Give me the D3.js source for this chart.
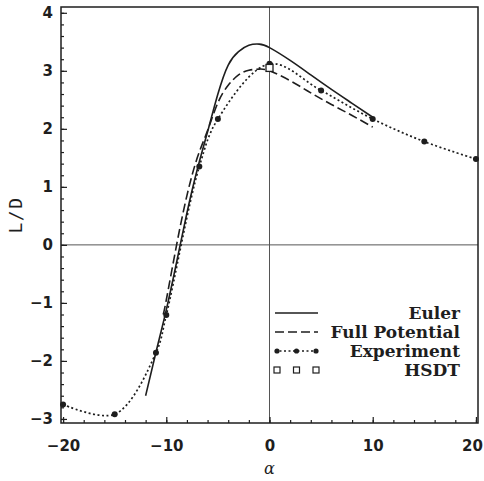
<!DOCTYPE html>
<html>
<head>
<meta charset="utf-8">
<script src="https://cdn.jsdelivr.net/npm/d3@7"></script>
<style>
    body { margin: 0; background: #fff; }
    svg { display: block; }
</style>
</head>
<body>
<svg id="visualization" width="484" height="481"></svg>
<script>
// curves
const eulerAlpha = [-12, -11, -10, -9, -8, -7, -6, -5, -4, -3, -2, -1, 0, 2, 4, 6, 8, 10];
const eulerLD = [-2.6, -1.85, -1.12, -0.3, 0.55, 1.3, 1.95, 2.6, 3.1, 3.33, 3.44, 3.46, 3.4, 3.18, 2.93, 2.68, 2.44, 2.2];

const fullPotAlpha = [-10.3, -10, -9, -8, -7, -6, -5, -4, -3, -2, -1, 0, 2, 4, 6, 8, 10];
const fullPotLD = [-1.2, -0.95, 0.0, 0.85, 1.5, 1.97, 2.45, 2.75, 2.93, 3.01, 3.03, 3.0, 2.83, 2.62, 2.42, 2.23, 2.03];

const expAlpha = [-20, -15, -11, -10, -6.8, -5, 0, 5, 10, 15, 20];
const expLD = [-2.75, -2.92, -1.86, -1.21, 1.35, 2.17, 3.12, 2.66, 2.17, 1.78, 1.48];

const hsdtAlpha = [0];
const hsdtLD = [3.05];

const xTicks = [-20, -10, 0, 10, 20];
const yTicks = [-3, -2, -1, 0, 1, 2, 3, 4];
const legendLabels = ["Euler", "Full Potential", "Experiment", "HSDT"];

const ink = "#1e1e1e";

const setupVisualization = () => {
    const svg = d3.select("#visualization");

    const xScale = d3.scaleLinear()
        .domain([-20.2, 20.2])
        .range([61, 478]);
    const yScale = d3.scaleLinear()
        .domain([-3.07, 4.1])
        .range([423, 7]);

    // crosshair at zero
    svg.append("line")
        .attr("x1", xScale(0)).attr("x2", xScale(0))
        .attr("y1", yScale.range()[0]).attr("y2", yScale.range()[1])
        .attr("stroke", "#555").attr("stroke-width", 1);
    svg.append("line")
        .attr("x1", xScale.range()[0]).attr("x2", xScale.range()[1])
        .attr("y1", yScale(0)).attr("y2", yScale(0))
        .attr("stroke", "#555").attr("stroke-width", 1);

    // minor ticks
    svg.append("g")
        .attr("transform", `translate(0, ${yScale.range()[0]})`)
        .call(d3.axisBottom(xScale).tickValues(d3.range(-20, 21, 2)).tickSize(-3).tickFormat(""))
        .call(g => g.select(".domain").remove());
    svg.append("g")
        .attr("transform", `translate(${xScale.range()[0]}, 0)`)
        .call(d3.axisLeft(yScale).tickValues(d3.range(-30, 41, 2).map(d => d / 10)).tickSize(-3).tickFormat(""))
        .call(g => g.select(".domain").remove());

    // major ticks + labels
    svg.append("g")
        .attr("class", "xaxis")
        .attr("transform", `translate(0, ${yScale.range()[0]})`)
        .call(d3.axisBottom(xScale).tickValues(xTicks).tickSize(-6).tickPadding(17))
        .call(g => g.select(".domain").remove());
    svg.append("g")
        .attr("transform", `translate(${xScale.range()[0]}, 0)`)
        .call(d3.axisLeft(yScale).tickValues(yTicks).tickSize(-6).tickPadding(8))
        .call(g => g.select(".domain").remove());

    svg.selectAll(".tick line").attr("stroke", ink).attr("stroke-width", 1.2);
    svg.selectAll(".tick text")
        .attr("fill", ink)
        .attr("font-family", "'DejaVu Sans', sans-serif")
        .attr("font-weight", "bold")
        .attr("font-size", 15);
    // last x label sits on the window edge
    svg.selectAll(".xaxis .tick text")
        .filter(d => d === 20)
        .attr("dx", -4);

    // frame
    svg.append("rect")
        .attr("x", xScale.range()[0])
        .attr("y", yScale.range()[1])
        .attr("width", xScale.range()[1] - xScale.range()[0])
        .attr("height", yScale.range()[0] - yScale.range()[1])
        .attr("fill", "none")
        .attr("stroke", ink)
        .attr("stroke-width", 1.5);

    const line = d3.line()
        .x(d => xScale(d[0]))
        .y(d => yScale(d[1]))
        .curve(d3.curveNatural);
    const expLine = d3.line()
        .x(d => xScale(d[0]))
        .y(d => yScale(d[1]))
        .curve(d3.curveCatmullRom.alpha(0.5));

    svg.append("path")
        .datum(d3.zip(eulerAlpha, eulerLD))
        .attr("d", line)
        .attr("fill", "none").attr("stroke", ink).attr("stroke-width", 1.6);

    svg.append("path")
        .datum(d3.zip(fullPotAlpha, fullPotLD))
        .attr("d", line)
        .attr("fill", "none").attr("stroke", ink).attr("stroke-width", 1.6)
        .attr("stroke-dasharray", "9,4");

    svg.append("path")
        .datum(d3.zip(expAlpha, expLD))
        .attr("d", expLine)
        .attr("fill", "none").attr("stroke", ink).attr("stroke-width", 1.7)
        .attr("stroke-dasharray", "2,2.5");

    svg.selectAll(".exp")
        .data(d3.zip(expAlpha, expLD))
        .join("circle")
        .attr("class", "exp")
        .attr("cx", d => xScale(d[0]))
        .attr("cy", d => yScale(d[1]))
        .attr("r", 3)
        .attr("fill", ink);

    svg.selectAll(".hsdt")
        .data(d3.zip(hsdtAlpha, hsdtLD))
        .join("rect")
        .attr("class", "hsdt")
        .attr("x", d => xScale(d[0]) - 3.5)
        .attr("y", d => yScale(d[1]) - 3.5)
        .attr("width", 7).attr("height", 7)
        .attr("fill", "#fff").attr("stroke", ink).attr("stroke-width", 1.3);

    // legend
    const legend = svg.append("g");
    const rowY = i => 313 + i * 19;
    const lx0 = 275, lx1 = 318;

    legend.append("line")
        .attr("x1", lx0).attr("x2", lx1).attr("y1", rowY(0)).attr("y2", rowY(0))
        .attr("stroke", ink).attr("stroke-width", 1.6);
    legend.append("line")
        .attr("x1", lx0).attr("x2", lx1).attr("y1", rowY(1)).attr("y2", rowY(1))
        .attr("stroke", ink).attr("stroke-width", 1.6).attr("stroke-dasharray", "9,4");
    legend.append("line")
        .attr("x1", lx0).attr("x2", lx1).attr("y1", rowY(2)).attr("y2", rowY(2))
        .attr("stroke", ink).attr("stroke-width", 1.6).attr("stroke-dasharray", "2,2.5");
    legend.selectAll(".legdot")
        .data([lx0 + 2, (lx0 + lx1) / 2, lx1 - 2])
        .join("circle")
        .attr("class", "legdot")
        .attr("cx", d => d).attr("cy", rowY(2)).attr("r", 2.6).attr("fill", ink);
    legend.selectAll(".legsq")
        .data([lx0 + 2, (lx0 + lx1) / 2, lx1 - 2])
        .join("rect")
        .attr("class", "legsq")
        .attr("x", d => d - 3).attr("y", rowY(3) - 3)
        .attr("width", 6).attr("height", 6)
        .attr("fill", "#fff").attr("stroke", ink).attr("stroke-width", 1.2);

    legend.selectAll(".legtext")
        .data(legendLabels)
        .join("text")
        .attr("class", "legtext")
        .attr("x", 460)
        .attr("y", (d, i) => rowY(i))
        .attr("dy", "0.35em")
        .attr("text-anchor", "end")
        .attr("font-family", "'DejaVu Serif', serif")
        .attr("font-weight", "bold")
        .attr("font-size", 17)
        .attr("fill", ink)
        .text(d => d);

    // axis titles
    svg.append("text")
        .attr("transform", "translate(22, 215) rotate(-90)")
        .attr("text-anchor", "middle")
        .attr("font-family", "'DejaVu Sans Mono', monospace")
        .attr("font-size", 18)
        .attr("letter-spacing", 1.5)
        .attr("fill", ink)
        .text("L/D");

    svg.append("text")
        .attr("x", xScale(0))
        .attr("y", 474)
        .attr("text-anchor", "middle")
        .attr("font-family", "'DejaVu Serif', serif")
        .attr("font-style", "italic")
        .attr("font-size", 16)
        .attr("fill", ink)
        .text("α");
};

setupVisualization();
</script>
</body>
</html>
